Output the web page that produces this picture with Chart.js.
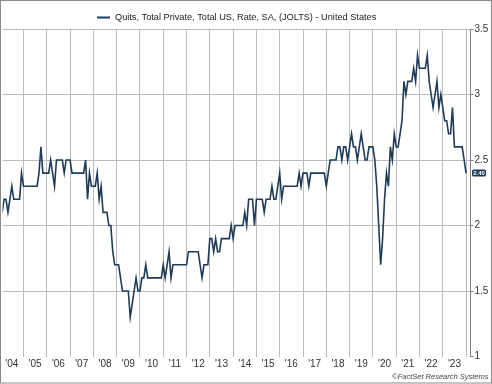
<!DOCTYPE html>
<html>
<head>
<meta charset="utf-8">
<script src="https://cdn.jsdelivr.net/npm/chart.js@4"></script>
<style>
  html, body { margin: 0; padding: 0; background: #fff; }
  canvas { display: block; }
</style>
</head>
<body>
<canvas id="quitsChart" width="492" height="384"></canvas>
<script>
// Quits rate, total private, monthly, Jan 2004 .. Dec 2023
const startYear = 2004;
const quitsRate = [
  2.1, 2.2, 2.2, 2.1, 2.2, 2.3, 2.2, 2.2, 2.2, 2.2, 2.4, 2.3, // 2004
  2.3, 2.3, 2.3, 2.3, 2.3, 2.3, 2.3, 2.4, 2.6, 2.4, 2.4, 2.4, // 2005
  2.4, 2.5, 2.4, 2.3, 2.5, 2.5, 2.5, 2.5, 2.4, 2.5, 2.5, 2.5, // 2006
  2.4, 2.4, 2.4, 2.4, 2.4, 2.4, 2.4, 2.5, 2.2, 2.4, 2.3, 2.3, // 2007
  2.3, 2.4, 2.2, 2.3, 2.1, 2.1, 2.1, 2.0, 2.0, 1.8, 1.7, 1.7, // 2008
  1.7, 1.6, 1.5, 1.5, 1.5, 1.5, 1.3, 1.4, 1.5, 1.6, 1.5, 1.5, // 2009
  1.6, 1.6, 1.7, 1.6, 1.6, 1.6, 1.6, 1.6, 1.6, 1.6, 1.6, 1.7, // 2010
  1.6, 1.7, 1.8, 1.6, 1.7, 1.7, 1.7, 1.7, 1.7, 1.7, 1.7, 1.7, // 2011
  1.8, 1.8, 1.8, 1.8, 1.8, 1.8, 1.7, 1.6, 1.7, 1.7, 1.7, 1.9, // 2012
  1.9, 1.8, 1.9, 1.8, 1.8, 1.9, 1.9, 1.9, 1.9, 1.9, 2.0, 1.9, // 2013
  2.0, 2.0, 2.0, 2.0, 2.0, 2.1, 2.0, 2.2, 2.2, 2.2, 2.0, 2.2, // 2014
  2.2, 2.2, 2.2, 2.1, 2.2, 2.2, 2.2, 2.3, 2.2, 2.2, 2.3, 2.4, // 2015
  2.2, 2.3, 2.3, 2.3, 2.3, 2.3, 2.3, 2.3, 2.3, 2.4, 2.3, 2.4, // 2016
  2.4, 2.4, 2.3, 2.4, 2.4, 2.4, 2.4, 2.4, 2.4, 2.4, 2.4, 2.3, // 2017
  2.4, 2.5, 2.5, 2.5, 2.5, 2.6, 2.6, 2.5, 2.6, 2.6, 2.5, 2.6, // 2018
  2.7, 2.6, 2.6, 2.5, 2.6, 2.7, 2.6, 2.5, 2.5, 2.6, 2.6, 2.6, // 2019
  2.5, 2.3, 2.0, 1.7, 1.9, 2.2, 2.4, 2.3, 2.6, 2.5, 2.7, 2.6, // 2020
  2.6, 2.7, 2.8, 3.1, 3.0, 3.1, 3.1, 3.1, 3.2, 3.1, 3.3, 3.2, // 2021
  3.2, 3.2, 3.2, 3.3, 3.1, 3.0, 2.9, 3.0, 3.1, 2.9, 3.0, 2.9, // 2022
  2.8, 2.8, 2.7, 2.7, 2.9, 2.6, 2.6, 2.6, 2.6, 2.6, 2.5, 2.4  // 2023
];
const yearLabels = ["'04", "'05", "'06", "'07", "'08", "'09", "'10", "'11", "'12", "'13",
                    "'14", "'15", "'16", "'17", "'18", "'19", "'20", "'21", "'22", "'23"];
const yTicks = [1, 1.5, 2, 2.5, 3, 3.5];
const seriesName = 'Quits, Total Private, Total US, Rate, SA, (JOLTS) - United States';
const footerText = '\u00A9FactSet Research Systems';

const lineColor = '#1f3b57';
const gridColor = '#b9bdc1';
const axisColor = '#7f7f7f';
const fontFamily = "'Liberation Sans', Arial, sans-serif";

Chart.defaults.font.family = fontFamily;

// points sit at month end
const points = quitsRate.map((v, i) => ({ x: startYear + (i + 1) / 12, y: v }));

// year boundaries carry the grid, mid-years carry the labels
const xTicks = [];
yearLabels.forEach((lab, k) => {
  xTicks.push({ value: startYear + k + 0.5 });
  xTicks.push({ value: startYear + k + 1 });
});

const decorations = {
  id: 'decorations',
  afterDraw(chart) {
    const ctx = chart.ctx;
    const area = chart.chartArea;
    ctx.save();

    // legend
    ctx.strokeStyle = lineColor;
    ctx.lineWidth = 2;
    ctx.beginPath();
    ctx.moveTo(97, 17.5);
    ctx.lineTo(110, 17.5);
    ctx.stroke();
    ctx.fillStyle = '#222';
    ctx.font = '9.2px ' + fontFamily;
    ctx.textBaseline = 'middle';
    ctx.textAlign = 'left';
    ctx.fillText(seriesName, 115, 17.5);

    // last value tag
    const last = quitsRate[quitsRate.length - 1];
    const py = chart.scales.y.getPixelForValue(last);
    ctx.fillStyle = lineColor;
    ctx.beginPath();
    if (ctx.roundRect) ctx.roundRect(area.right + 1.5, py - 3.5, 14, 7, 1.5);
    else ctx.rect(area.right + 1.5, py - 3.5, 14, 7);
    ctx.fill();
    ctx.fillStyle = '#fff';
    ctx.font = 'bold 6px ' + fontFamily;
    ctx.textAlign = 'center';
    ctx.fillText(last.toFixed(2), area.right + 8.5, py + 0.5);

    // footer
    ctx.fillStyle = '#444';
    ctx.font = 'italic 7.5px ' + fontFamily;
    ctx.textAlign = 'right';
    ctx.fillText(footerText, 488.5, 377);

    // outer frame
    ctx.strokeStyle = '#8a8a8a';
    ctx.lineWidth = 1;
    ctx.strokeRect(0.5, 0.5, 491, 382.5);
    ctx.restore();
  }
};

new Chart(document.getElementById('quitsChart'), {
  type: 'line',
  data: {
    datasets: [{
      label: seriesName,
      data: points,
      borderColor: lineColor,
      borderWidth: 1.6,
      pointRadius: 0,
      tension: 0,
      fill: false
    }]
  },
  options: {
    responsive: false,
    animation: false,
    layout: { padding: { left: 2.5, top: 29, right: 0, bottom: 10.5 } },
    plugins: {
      legend: { display: false },
      tooltip: { enabled: false }
    },
    scales: {
      x: {
        type: 'linear',
        min: 2004.1,
        max: 2024.19,
        afterBuildTicks: scale => { scale.ticks = xTicks.map(t => ({ value: t.value })); },
        afterFit: scale => { scale.height = 17; },
        border: { display: false },
        grid: {
          color: c => (c.tick && Number.isInteger(c.tick.value)) ? gridColor : 'rgba(0,0,0,0)',
          drawTicks: false,
          lineWidth: 1
        },
        ticks: {
          autoSkip: false,
          maxRotation: 0,
          minRotation: 0,
          padding: 2,
          color: '#333',
          font: { size: 10 },
          callback: v => Number.isInteger(v) ? '' : yearLabels[Math.floor(v) - startYear]
        }
      },
      y: {
        position: 'right',
        min: 1,
        max: 3.5,
        afterBuildTicks: scale => { scale.ticks = yTicks.map(v => ({ value: v })); },
        afterFit: scale => { scale.width = 21.5; },
        border: { display: true, color: axisColor, width: 1 },
        grid: {
          color: c => (c.tick && c.tick.value === 1) ? 'rgba(0,0,0,0)' : gridColor,
          tickColor: axisColor,
          tickLength: 3,
          lineWidth: 1
        },
        ticks: {
          padding: 1,
          color: '#333',
          font: { size: 10 },
          callback: v => String(v)
        }
      }
    }
  },
  plugins: [decorations]
});
</script>
</body>
</html>
